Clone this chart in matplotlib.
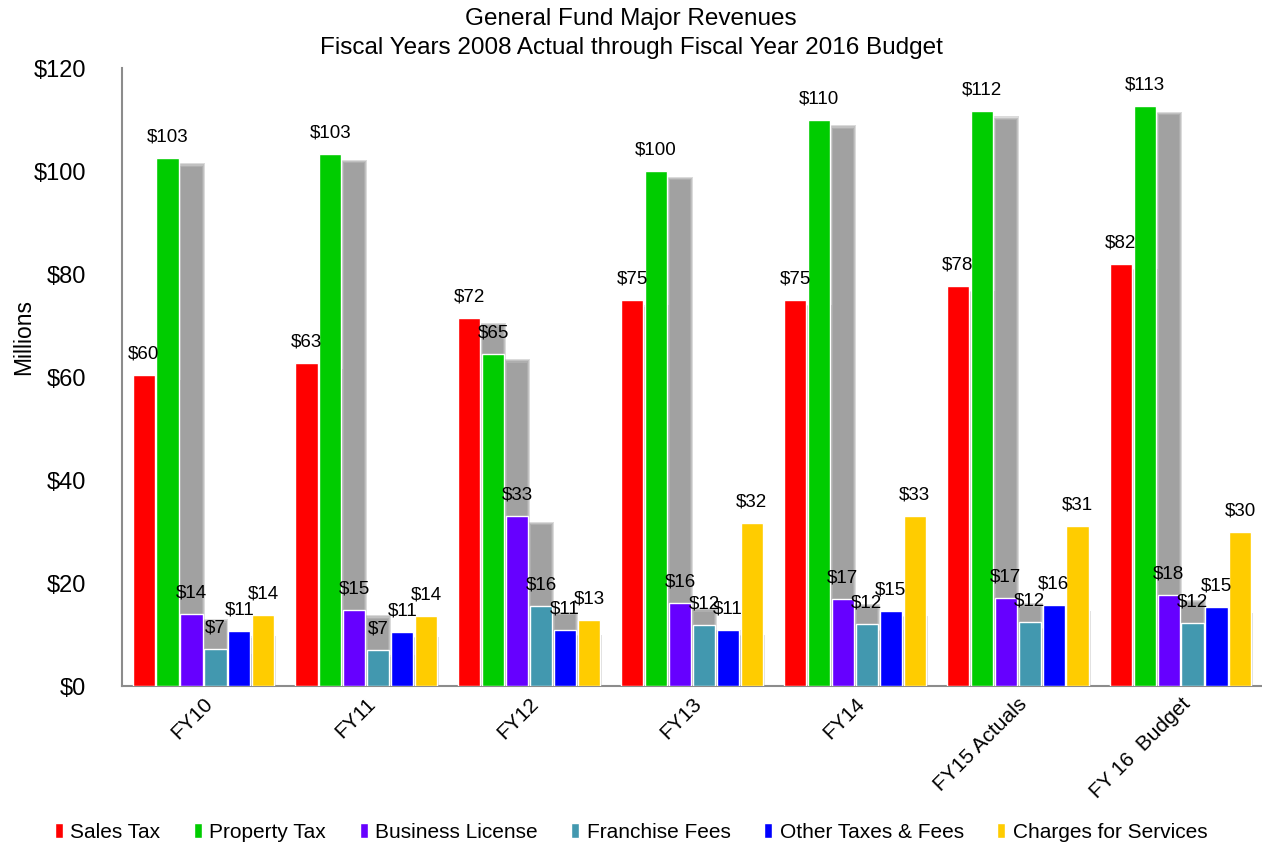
import matplotlib.pyplot as plt
import numpy as np

plt.rcParams['font.family'] = ['Liberation Sans', 'DejaVu Sans']

years = ['FY10', 'FY11', 'FY12', 'FY13', 'FY14', 'FY15 Actuals', 'FY 16  Budget']
series = ['Sales Tax', 'Property Tax', 'Business License', 'Franchise Fees',
          'Other Taxes & Fees', 'Charges for Services']
sales_tax = [60.4, 62.7, 71.6, 75.0, 75.1, 77.8, 82.0]
property_tax = [102.6, 103.3, 64.6, 100.0, 110.0, 111.7, 112.6]
business_license = [14.1, 14.8, 33.0, 16.2, 17.0, 17.2, 17.8]
franchise_fees = [7.2, 7.0, 15.5, 11.9, 12.0, 12.4, 12.2]
other_taxes = [10.7, 10.6, 11.0, 11.0, 14.6, 15.7, 15.3]
charges = [13.8, 13.6, 12.9, 31.7, 33.0, 31.2, 30.0]
colors = ['#ff0000', '#00cc00', '#6600ff', '#4298af', '#0000ff', '#ffcc00']

data = [sales_tax, property_tax, business_license, franchise_fees, other_taxes, charges]

fig = plt.figure(figsize=(12.62, 8.44), dpi=100)
ax = fig.add_axes([0.0967, 0.187, 0.9033, 0.732])

x = np.arange(len(years))
slot = 0.147
width = 0.136

for i, (vals, color, name) in enumerate(zip(data, colors, series)):
    pos = x + (i - 2.5) * slot
    vals = np.array(vals)
    # soft drop shadow, falls one slot to the right (last series has none)
    if i < len(data) - 1:
        for grow in [0.012, 0.006, 0.0, -0.006]:
            ax.bar(pos + slot, np.maximum(vals - 1.5 + grow * 40, 0),
                   width=width + 2 * grow, color='#808080', alpha=0.28,
                   linewidth=0, zorder=1)
    ax.bar(pos, vals, width=width, color=color, edgecolor='white', linewidth=1,
           label=name, zorder=3)
    for px, v in zip(pos, vals):
        ax.annotate(f'${v:.0f}', (px, v), xytext=(0, 9), textcoords='offset points',
                    ha='center', va='bottom', fontsize=13.5, zorder=4)

ax.set_xlim(-0.5, 6.5)
ax.set_ylim(0, 120)
ax.set_yticks(np.arange(0, 121, 20))
ax.set_yticklabels([f'${v}' for v in range(0, 121, 20)], fontsize=17)
ax.tick_params(axis='y', length=0, pad=26)
ax.set_xticks(x)
ax.set_xticklabels(years, rotation=45, ha='right', rotation_mode='anchor', fontsize=15)
ax.tick_params(axis='x', length=0, pad=6)
ax.set_ylabel('Millions', fontsize=16.5)
ax.yaxis.set_label_coords(-0.076, 0.565)

for s in ['top', 'right']:
    ax.spines[s].set_visible(False)
for s in ['left', 'bottom']:
    ax.spines[s].set_color('#8c8c8c')
    ax.spines[s].set_linewidth(1.5)

fig.text(0.5, 0.977, 'General Fund Major Revenues', ha='center', va='center', fontsize=17.5)
fig.text(0.5, 0.943, 'Fiscal Years 2008 Actual through Fiscal Year 2016 Budget',
         ha='center', va='center', fontsize=17.5)

fig.legend(loc='lower center', bbox_to_anchor=(0.5, -0.02), ncol=6, frameon=False,
           fontsize=15, handlelength=0.4, handleheight=0.75, handletextpad=0.35,
           columnspacing=1.6)

fig.savefig('out.png', dpi=100)
